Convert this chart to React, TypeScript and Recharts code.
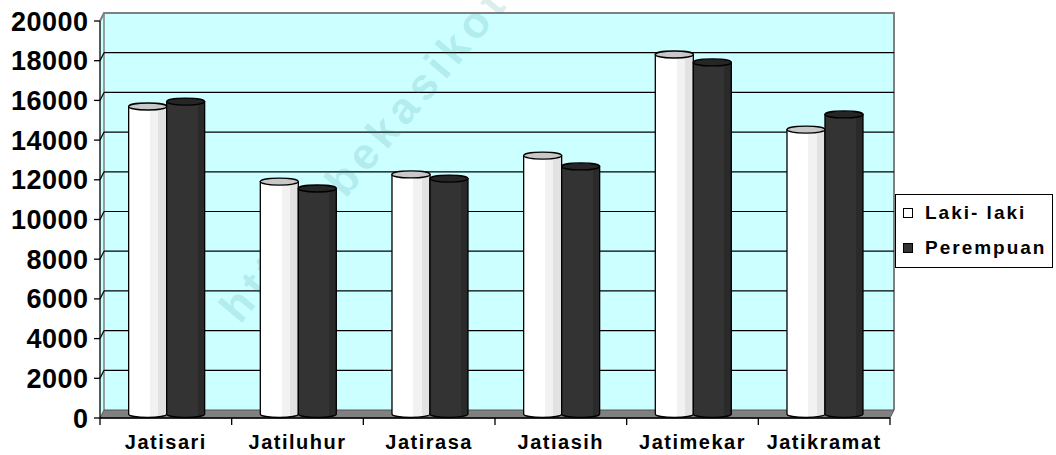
import React from 'react';
import { BarChart, Bar, XAxis, YAxis, CartesianGrid, Legend, Customized } from 'recharts';

const CATEGORIES = ['Jatisari', 'Jatiluhur', 'Jatirasa', 'Jatiasih', 'Jatimekar', 'Jatikramat'];
const LAKI_LAKI = [15490, 11710, 12070, 13020, 18110, 14330];
const PEREMPUAN = [15740, 11360, 11860, 12470, 17710, 15090];
const Y_TICKS = [0, 2000, 4000, 6000, 8000, 10000, 12000, 14000, 16000, 18000, 20000];
const SERIES = ['Laki- laki', 'Perempuan'];
const WATERMARK = 'http://bekasikota';

const data = CATEGORIES.map((name, i) => ({ name, laki: LAKI_LAKI[i], perempuan: PEREMPUAN[i] }));

const FONT = '"Liberation Sans", Arial, Helvetica, sans-serif';
const W = 1056;
const H = 455;
const MARGIN = { top: 21, right: 166, bottom: 0, left: 0 };
const Y_AXIS_W = 100;
const X_AXIS_H = 37;
const PLOT_W = W - MARGIN.right - MARGIN.left - Y_AXIS_W;
const DX = 4; // depth offset of back wall
const DY = -8;
const WALL = '#ccffff';
const FLOOR = '#808080';
const RY = 3.5;

const gridLine = (p: any) => {
  const { x1, x2, y1, index, y, height } = p;
  const top = y;
  const bottom = y + height;
  const isEdge = Math.abs(y1 - top) < 0.5 || Math.abs(y1 - bottom) < 0.5;
  const parts: any[] = [];
  if (index === 0) {
    parts.push(
      <g key="bg">
        <polygon points={`${x1},${top} ${x1 + DX},${top + DY} ${x1 + DX},${bottom + DY} ${x1},${bottom}`} fill={WALL} stroke="none" />
        <rect x={x1 + DX} y={top + DY} width={x2 - x1} height={bottom - top} fill={WALL} stroke="none" />
        <polyline
          points={`${x1},${top} ${x1 + DX},${top + DY} ${x2 + DX},${top + DY} ${x2 + DX},${bottom + DY}`}
          fill="none"
          stroke="#808080"
          strokeWidth={2}
        />
        <line x1={x1 + DX} y1={top + DY} x2={x1 + DX} y2={bottom + DY} stroke="#808080" strokeWidth={1.5} />
        <polygon
          points={`${x1},${bottom} ${x1 + DX},${bottom + DY} ${x2 + DX},${bottom + DY} ${x2},${bottom}`}
          fill={FLOOR}
          stroke="#555"
          strokeWidth={1}
        />
      </g>
    );
  }
  if (!isEdge) {
    parts.push(
      <g key={`gl-${index}`}>
        <line x1={x1} y1={y1} x2={x1 + DX} y2={y1 + DY} stroke="#000" strokeWidth={1.2} />
        <line x1={x1 + DX} y1={y1 + DY} x2={x2 + DX} y2={y1 + DY} stroke="#000" strokeWidth={1.2} />
      </g>
    );
  }
  return <g key={`grid-${index}`}>{parts}</g>;
};

const makeCylinder = (gradId: string, topFill: string) => (props: any) => {
  const { x, y, width, height } = props;
  if (x == null || y == null) return <g />;
  const bx = x + 1;
  const yTop = y - 4;
  const yBot = y + height - 4;
  const rx = width / 2;
  return (
    <g>
      <path
        d={`M${bx},${yTop} L${bx},${yBot} A${rx},${RY} 0 0 0 ${bx + width},${yBot} L${bx + width},${yTop} Z`}
        fill={`url(#${gradId})`}
        stroke="#000"
        strokeWidth={1.3}
      />
      <ellipse cx={bx + rx} cy={yTop} rx={rx} ry={RY} fill={topFill} stroke="#000" strokeWidth={1.3} />
    </g>
  );
};

const XTick = (p: any) => {
  const { x, y, payload, index } = p;
  const band = PLOT_W / CATEGORIES.length;
  const left = x - band / 2;
  return (
    <g>
      <line x1={left} y1={y} x2={left} y2={y + 7} stroke="#000" strokeWidth={1.3} />
      {index === CATEGORIES.length - 1 && (
        <line x1={left + band} y1={y} x2={left + band} y2={y + 7} stroke="#000" strokeWidth={1.3} />
      )}
      <text
        x={x}
        y={y + 31}
        textAnchor="middle"
        fontFamily={FONT}
        fontWeight={700}
        fontSize={20}
        letterSpacing={1.5}
        fill="#000"
      >
        {payload.value}
      </text>
    </g>
  );
};

const YTick = (p: any) => {
  const { x, y, payload } = p;
  return (
    <text
      x={x + 0.5}
      y={y}
      dy={9.5}
      textAnchor="end"
      fontFamily={FONT}
      fontWeight={700}
      fontSize={27}
      letterSpacing={0.5}
      fill="#000"
    >
      {payload.value}
    </text>
  );
};

const LegendBox = (props: any) => {
  const payload = props.payload || [];
  return (
    <div
      style={{
        width: 156,
        height: 72,
        border: '1px solid #000',
        background: '#fff',
        position: 'relative',
        fontFamily: FONT,
      }}
    >
      {payload.map((entry: any, i: number) => (
        <div
          key={i}
          style={{ position: 'absolute', left: 7, top: i === 0 ? 7 : 42, height: 22, display: 'flex', alignItems: 'center' }}
        >
          <span
            style={{
              display: 'inline-block',
              width: 8,
              height: 8,
              border: '1px solid #000',
              background: i === 0 ? '#ffffff' : '#333333',
              marginRight: 12,
            }}
          />
          <span style={{ fontSize: 19, fontWeight: 700, letterSpacing: 2, color: '#000', whiteSpace: 'nowrap' }}>
            {entry.value}
          </span>
        </div>
      ))}
    </div>
  );
};

const Watermark = () => (
  <text
    x={240}
    y={325}
    transform="rotate(-50 240 325)"
    fontFamily={FONT}
    fontWeight={700}
    fontSize={44}
    letterSpacing={6}
    fill="#2a8a8a"
    fillOpacity={0.17}
  >
    {WATERMARK}
  </text>
);

export default function App() {
  return (
    <div style={{ position: 'absolute', left: 0, top: 0, width: W, height: H, background: '#fff' }}>
      <BarChart width={W} height={H} data={data} margin={MARGIN} barCategoryGap="21%" barGap={0}>
        <defs>
          <linearGradient id="gWhite" x1="0" y1="0" x2="1" y2="0">
            <stop offset="0%" stopColor="#ffffff" />
            <stop offset="56%" stopColor="#ffffff" />
            <stop offset="56%" stopColor="#f2f2f2" />
            <stop offset="78%" stopColor="#f2f2f2" />
            <stop offset="78%" stopColor="#e2e2e2" />
            <stop offset="100%" stopColor="#e2e2e2" />
          </linearGradient>
          <linearGradient id="gDark" x1="0" y1="0" x2="1" y2="0">
            <stop offset="0%" stopColor="#333333" />
            <stop offset="82%" stopColor="#333333" />
            <stop offset="82%" stopColor="#2a2a2a" />
            <stop offset="100%" stopColor="#2a2a2a" />
          </linearGradient>
        </defs>
        <CartesianGrid vertical={false} horizontal={gridLine} />
        <XAxis
          dataKey="name"
          height={X_AXIS_H}
          axisLine={{ stroke: '#000', strokeWidth: 1.3 }}
          tickLine={false}
          tickSize={0}
          tickMargin={0}
          tick={<XTick />}
          interval={0}
        />
        <YAxis
          width={Y_AXIS_W}
          domain={[0, 20000]}
          ticks={Y_TICKS}
          interval={0}
          axisLine={{ stroke: '#000', strokeWidth: 1.3 }}
          tickLine={{ stroke: '#000', strokeWidth: 1.3 }}
          tickSize={6}
          tickMargin={6}
          tick={<YTick />}
        />
        <Bar dataKey="laki" name={SERIES[0]} fill="#ffffff" isAnimationActive={false} shape={makeCylinder('gWhite', '#c8c8c8')} />
        <Bar dataKey="perempuan" name={SERIES[1]} fill="#333333" isAnimationActive={false} shape={makeCylinder('gDark', '#262626')} />
        <Customized component={<Watermark />} />
        <Legend
          layout="vertical"
          align="center"
          verticalAlign="middle"
          wrapperStyle={{ left: 895, top: 194, width: 158, height: 74 }}
          content={<LegendBox />}
        />
      </BarChart>
    </div>
  );
}
